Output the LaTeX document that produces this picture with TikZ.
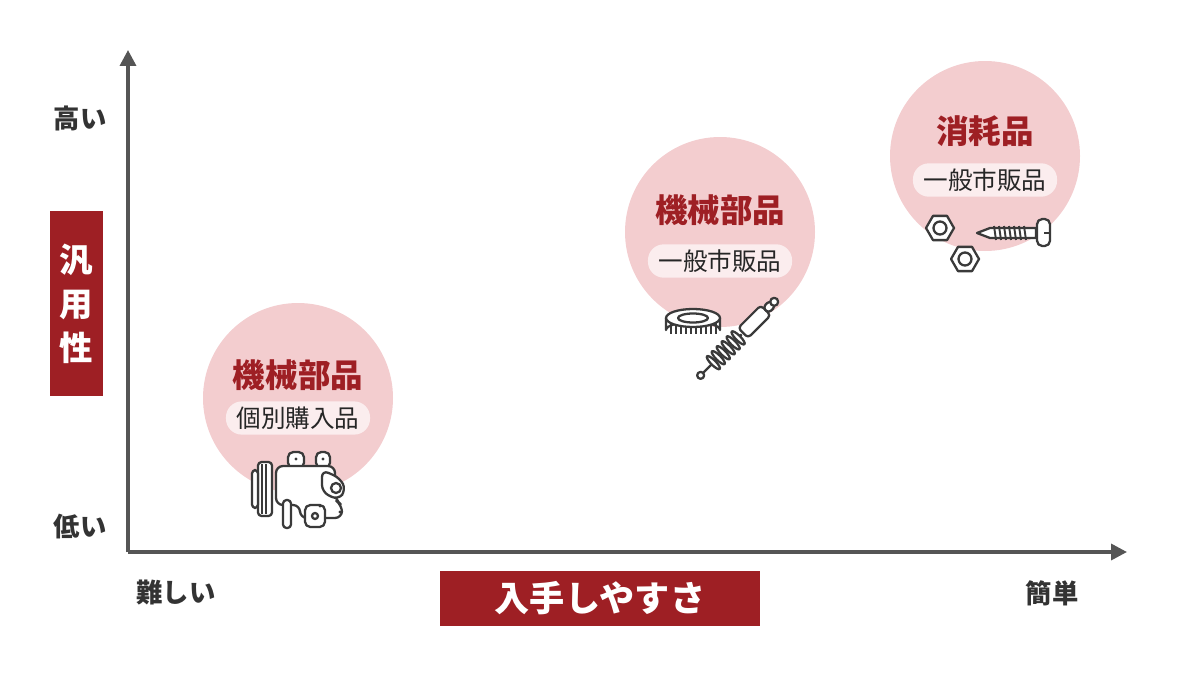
\documentclass[tikz,border=0pt]{standalone}
\usepackage{fontspec}
\setmainfont{Noto Sans CJK JP}
\usetikzlibrary{arrows.meta}
\definecolor{brickred}{HTML}{9E1F24}
\definecolor{blush}{HTML}{F3CDCF}
\definecolor{pill}{HTML}{FBEDEE}
\definecolor{axisgray}{HTML}{555555}
\definecolor{icongray}{HTML}{3A3A3A}

\begin{document}
\begin{tikzpicture}[x=0.02cm,y=-0.02cm,
    bubble/.style={fill=blush,draw=none},
    title/.style={font={\fontsize{18.5}{20}\selectfont\bfseries},text=brickred},
    tag/.style={fill=pill,rounded corners=9pt,inner xsep=6pt,inner ysep=3pt,
        font={\fontsize{14}{16}\selectfont},text=black!85},
    axislabel/.style={font={\fontsize{15}{17}\selectfont\bfseries},text=black!80},
    banner/.style={fill=brickred,text=white,font={\fontsize{20}{22}\selectfont\bfseries}},
    icon/.style={draw=icongray,line width=1.3pt,line join=round,fill=white},
    ]
    \useasboundingbox (0,0) rectangle (1200,673);
    % Bubbles
    \fill[bubble] (298,398) circle (95);
    \fill[bubble] (720,232) circle (95);
    \fill[bubble] (985,156) circle (95);
    % Axes
    \coordinate (origin) at (128,552);
    \coordinate (ytip) at (128,50);
    \coordinate (xtip) at (1127,552);
    \draw[axisgray,line width=2pt,-{Triangle[length=9pt,width=9pt]}] (origin) -- (ytip);
    \draw[axisgray,line width=2pt,-{Triangle[length=9pt,width=9pt]}] (origin) -- (xtip);
    % Axis labels
    \node[axislabel] (high) at (80,118) {高い};
    \node[axislabel] (low) at (80,527) {低い};
    \node[axislabel] (hard) at (176,593) {難しい};
    \node[axislabel] (easy) at (1052,593) {簡単};
    \node[banner,minimum width=0.02cm*53,minimum height=0.02cm*185,
          align=center,font={\fontsize{19}{25}\selectfont\bfseries}]
         (versatility) at (76.5,303.5) {汎\\用\\性};
    \node[banner,minimum width=0.02cm*320,minimum height=0.02cm*55]
         (access) at (600,598.5) {入手しやすさ};
    % Bubble texts
    \node[title] (machine1) at (298,375) {機械部品};
    \node[tag] (single) at (298,418) {個別購入品};
    \node[title] (machine2) at (720,210) {機械部品};
    \node[tag] (market2) at (720,261) {一般市販品};
    \node[title] (supply) at (985,131) {消耗品};
    \node[tag] (market3) at (985,180) {一般市販品};

    % Compressor
    \draw[icon,rounded corners=2pt] (258,462) rectangle (272,516);
    \draw[icon,rounded corners=2pt] (252,470) rectangle (258,508);
    \foreach \x in {262,266} \draw[icongray,line width=1.1pt] (\x,464) -- (\x,514);
    \draw[icon,rounded corners=3pt] (288,452) rectangle (304,468);
    \draw[icon,rounded corners=3pt] (316,452) rectangle (330,468);
    \draw[icon,rounded corners=4pt] (276,466) -- (335,466) -- (335,500) -- (342,505)
        -- (342,518) -- (300,518) -- (300,505) -- (276,505) -- cycle;
    \draw[icon,rounded corners=4pt] (322,470) -- (340,478) -- (346,490) -- (338,500) -- (322,492) -- cycle;
    \draw[icon] (336,488) circle (5);
    \draw[icon,rounded corners=3pt] (305,505) rectangle (325,527);
    \draw[icon] (315,516) circle (3);
    \draw[icon,rounded corners=2pt] (283,500) rectangle (291,528);
    \fill[icongray] (296,459) circle (1.6) (323,459) circle (1.6) (320,506) circle (1.6) (340,512) circle (1.6);
    % Filter
    \draw[icon] (666,318) -- (666,330) arc (180:360:27 and 8) -- (720,318);
    \foreach \x in {671,676,...,716} \draw[icongray,line width=1.1pt] (\x,321) -- (\x,334);
    \draw[icon] (693,318) ellipse (27 and 9);
    \draw[icon] (693,318) ellipse (15 and 4.5);
    % Shock absorber
    \begin{scope}[shift={(736,340)},rotate=45]
        \draw[icongray,line width=1.3pt] (-48,0) -- (8,0);
        \draw[icon] (-50,0) circle (3.5);
        \foreach \s in {-32,-25,...,5} \draw[icon] (\s,0) ellipse (2.5 and 9);
        \draw[icon,rounded corners=2pt] (10,-7) rectangle (42,7);
        \draw[icon,rounded corners=2pt] (42,-4) rectangle (52,4);
        \draw[icon] (54,0) circle (4);
    \end{scope}
    % Nuts
    \foreach \c in {(940,228),(965,259)} {
        \draw[icon] \c +(0:14) -- +(60:14) -- +(120:14) -- +(180:14) -- +(240:14) -- +(300:14) -- cycle;
        \draw[icon] \c circle (6.5);
    }
    % Screw
    \draw[icon] (977,233) -- (990,228) -- (1036,228) -- (1036,238) -- (990,238) -- cycle;
    \foreach \x in {994,999,...,1024} \draw[icongray,line width=1.1pt] (\x,226) -- (\x+2,240);
    \draw[icon,rounded corners=3pt] (1037,219) rectangle (1050,246);
    \draw[icongray,line width=1.3pt] (1044,233) -- (1050,233);
\end{tikzpicture}
\end{document}
